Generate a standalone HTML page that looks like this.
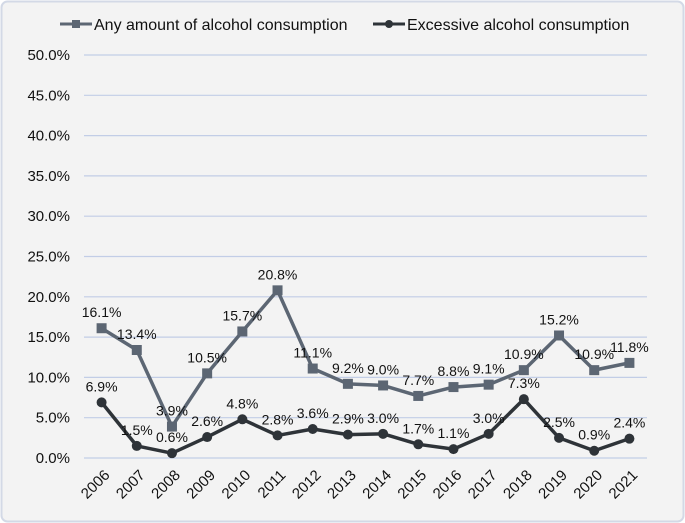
<!DOCTYPE html>
<html><head><meta charset="utf-8"><style>
body{margin:0;background:#fff}
svg{display:block}
text{font-family:"Liberation Sans",sans-serif;fill:#111}
</style></head><body>
<svg width="685" height="523">
<rect x="1.5" y="1.5" width="682" height="520" rx="6" fill="#f3f3f3" stroke="#d3d9e6" stroke-width="2"/>
<g id="grid"></g><g id="series"></g>
<g>
<line x1="60" y1="24" x2="92" y2="24" stroke="#5c6673" stroke-width="3"/>
<rect x="72" y="20" width="8" height="8" fill="#5c6673"/>
<text x="94" y="30" font-size="16">Any amount of alcohol consumption</text>
<line x1="373" y1="24" x2="405" y2="24" stroke="#2e3338" stroke-width="3"/>
<circle cx="389" cy="24" r="4" fill="#2e3338"/>
<text x="407" y="30" font-size="16">Excessive alcohol consumption</text>
</g>
</svg>
<script>
const years=["2006","2007","2008","2009","2010","2011","2012","2013","2014","2015","2016","2017","2018","2019","2020","2021"];
const anyVals=[16.1,13.4,3.9,10.5,15.7,20.8,11.1,9.2,9.0,7.7,8.8,9.1,10.9,15.2,10.9,11.8];
const excVals=[6.9,1.5,0.6,2.6,4.8,2.8,3.6,2.9,3.0,1.7,1.1,3.0,7.3,2.5,0.9,2.4];
const yTicks=[0,5,10,15,20,25,30,35,40,45,50];
const NS="http://www.w3.org/2000/svg";
const x0=84,x1=647,yb=458,yt=55;
const xs=i=>x0+(x1-x0)/years.length*(i+0.5);
const ys=v=>yb-(yb-yt)*v/50;
function mk(t,a,p){const e=document.createElementNS(NS,t);for(const k in a)e.setAttribute(k,a[k]);p.appendChild(e);return e;}
const g=document.getElementById('grid'),s=document.getElementById('series');
yTicks.forEach(v=>{
 const l=mk('line',{x1:x0,x2:x1,y1:ys(v),y2:ys(v),stroke:'#c2cde6','stroke-width':1.2},g);
 
 
 const t=mk('text',{x:70,y:ys(v)+5,'text-anchor':'end','font-size':15},g);
 t.textContent=v.toFixed(1)+'%';
 
 
});
years.forEach((y,i)=>{
 const t=mk('text',{x:0,y:0,'text-anchor':'end','font-size':15,transform:`translate(${xs(i)+9},${yb+18}) rotate(-45)`},g);
 t.textContent=y;
 
 
});
function draw(vals,color,sq,name){
 const p=mk('polyline',{points:vals.map((v,i)=>xs(i)+','+ys(v)).join(' '),fill:'none',stroke:color,'stroke-width':3.5,'stroke-linejoin':'round'},s);
 
 
 vals.forEach((v,i)=>{
  let m;
  if(sq)m=mk('rect',{x:xs(i)-5,y:ys(v)-5,width:10,height:10,fill:color},s);
  else m=mk('circle',{cx:xs(i),cy:ys(v),r:5,fill:color},s);
  
  
  const t=mk('text',{x:xs(i),y:ys(v)-11,'text-anchor':'middle','font-size':14},s);
  t.textContent=v.toFixed(1)+'%';
  
  
 });
}
draw(anyVals,'#5c6673',true,'any-amount');
draw(excVals,'#2e3338',false,'excessive');
</script>
</body></html>
